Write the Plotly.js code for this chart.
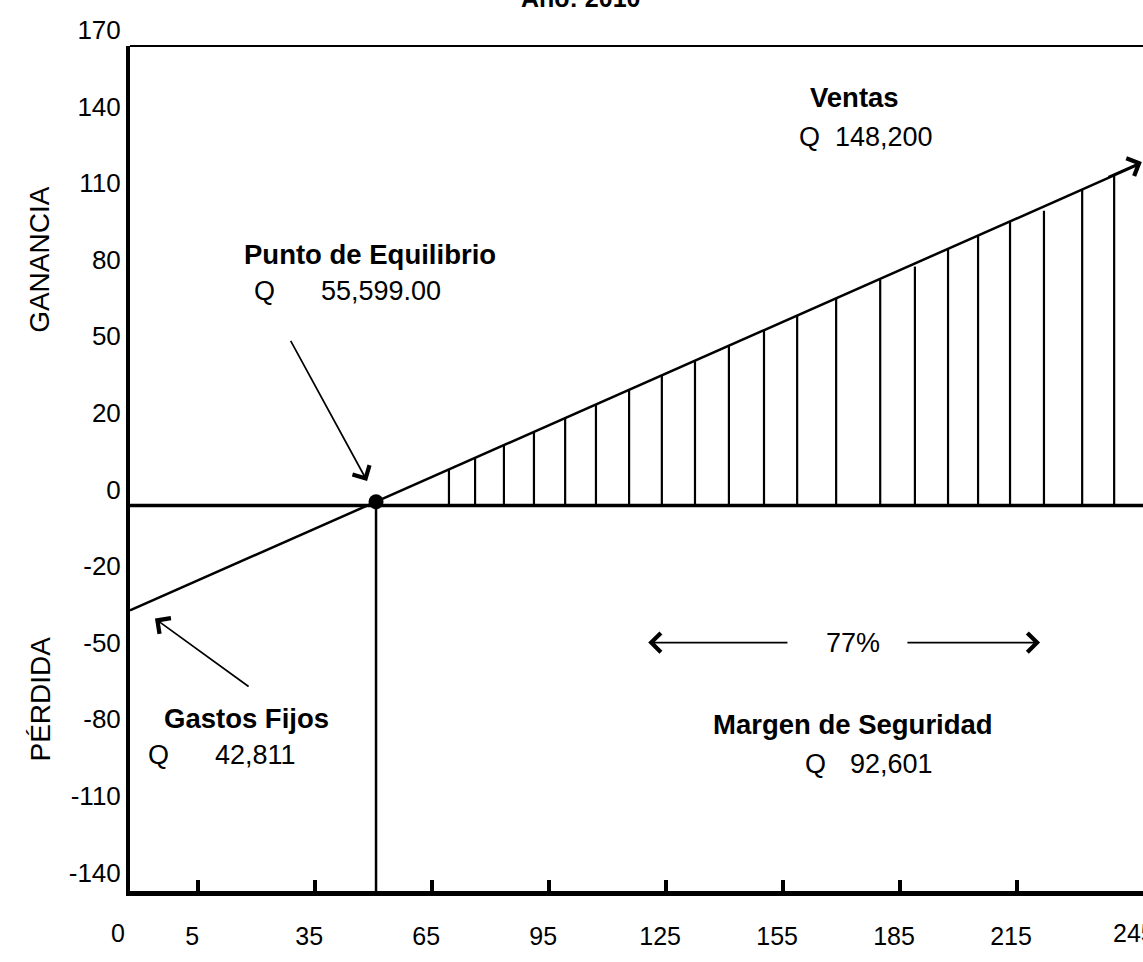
<!DOCTYPE html>
<html>
<head>
<meta charset="utf-8">
<script src="https://cdn.plot.ly/plotly-3.0.1.min.js"></script>
<style>html,body{margin:0;padding:0;background:#fff;}#chart{width:1143px;height:962px;}</style>
</head>
<body>
<div id="chart"></div>
<script>
// ---- data ----
const xTickVals = [5, 35, 65, 95, 125, 155, 185, 215];
const xTickText = ['5', '35', '65', '95', '125', '155', '185', '215'];
const yTickVals = [180, 150, 120, 90, 60, 30, 0, -30, -60, -90, -120, -150];
const yTickText = ['170', '140', '110', '80', '50', '20', '0', '-20', '-50', '-80', '-110', '-140'];

const ventasX = [-12.5, 245.5];
const ventasY = [-41.1, 133.1];
const zeroX = [-12.5, 247.3];
const zeroY = [0, 0];
const equilibrioX = 50.6;
const equilibrioY = 1.5;
const fondoY = -151;

const hatchX = [69.3, 76.0, 83.4, 91.1, 99.1, 107.0, 115.5, 123.9, 132.4, 141.1, 150.1,
                158.6, 168.6, 179.9, 188.8, 197.3, 205.0, 213.2, 221.9, 231.7, 239.9];
const hatchTop = [14.1, 18.6, 23.7, 28.9, 34.2, 39.6, 45.3, 51.0, 56.7, 62.6, 68.7,
                  74.4, 81.2, 88.4, 93.6, 100.5, 105.7, 111.3, 115.5, 123.7, 129.3];

const FONT = 'Liberation Sans, Arial, sans-serif';

// hatch segments
const hx = [], hy = [];
hatchX.forEach((x, i) => { hx.push(x, x, null); hy.push(0, hatchTop[i], null); });

const traces = [
  {x: hx, y: hy, mode: 'lines', line: {color: '#000', width: 2.2}, hoverinfo: 'skip', showlegend: false},
  {x: zeroX, y: zeroY, mode: 'lines', line: {color: '#000', width: 3.5}, showlegend: false},
  {x: ventasX, y: ventasY, mode: 'lines', line: {color: '#000', width: 2.5}, showlegend: false},
  {x: [equilibrioX, equilibrioX], y: [0, fondoY], mode: 'lines', line: {color: '#000', width: 2.5}, showlegend: false},
  {x: [equilibrioX], y: [equilibrioY], mode: 'markers', marker: {color: '#000', size: 15}, showlegend: false}
];

function txt(x, y, t, bold, extra) {
  return Object.assign({x: x, y: y, xref: 'x', yref: 'y', text: bold ? '<b>' + t + '</b>' : t,
    showarrow: false, font: {family: FONT, size: bold ? 27.5 : 27, color: '#000'}, xanchor: 'center', yanchor: 'middle'}, extra || {});
}
function arr(x0, y0, x1, y1) {
  return {x: x1, y: y1, ax: x0, ay: y0, xref: 'x', yref: 'y', axref: 'x', ayref: 'y', text: '',
    showarrow: true, arrowhead: 4, arrowsize: 2.2, arrowwidth: 1.7, arrowcolor: '#000'};
}
function ptxt(x, y, t, size, extra) {
  return Object.assign({x: x, y: y, xref: 'paper', yref: 'paper', text: t, showarrow: false,
    xanchor: 'center', yanchor: 'middle', font: {family: FONT, size: size, color: '#000'}}, extra || {});
}

const annotations = [
  txt(173.4, 159.7, 'Ventas', true),
  txt(176.3, 144.4, 'Q&nbsp;&nbsp;148,200', false),
  txt(49.1, 98.3, 'Punto de Equilibrio', true),
  txt(21.9, 83.9, 'Q', false),
  txt(51.9, 83.9, '55,599.00', false),
  txt(17.25, -83.4, 'Gastos Fijos', true),
  txt(-5.3, -97.9, 'Q', false),
  txt(19.8, -97.9, '42,811', false),
  txt(172.9, -53.7, '77%', false),
  txt(172.9, -85.8, 'Margen de Seguridad', true),
  txt(163.4, -101.4, 'Q', false),
  txt(182.7, -101.4, '92,601', false),
  arr(28.5, 65.1, 48.3, 9.6),
  arr(18.3, -71.3, -6.1, -44.3),
  arr(156.5, -53.7, 120.4, -53.7),
  arr(186.5, -53.7, 220.9, -53.7),
  arr(238, 128.5, 247.0, 134.6),
  ptxt(-0.0888, 0.747, 'GANANCIA', 28, {textangle: -90}),
  ptxt(-0.0888, 0.2267, 'PÉRDIDA', 28, {textangle: -90}),
  ptxt(-0.012, -0.0496, '0', 25),
  ptxt(0.9915, -0.0496, '245', 25),
  ptxt(0.4443, 1.0567, '<b>Año: 2010</b>', 25)
];

const layout = {
  width: 1143, height: 962,
  margin: {l: 130, r: 0, t: 46, b: 71, pad: 0},
  paper_bgcolor: '#fff', plot_bgcolor: '#fff',
  showlegend: false,
  xaxis: {range: [-12.5, 247.3], tickvals: xTickVals, ticktext: xTickText, showgrid: false, zeroline: false,
          showline: true, linecolor: '#000', linewidth: 5, ticks: 'inside', ticklen: 11, tickwidth: 4, tickcolor: '#000',
          ticklabelstandoff: 19, ticklabelshift: -6, automargin: false,
          tickfont: {family: FONT, size: 25, color: '#000'}},
  yaxis: {range: [-151, 180], tickvals: yTickVals, ticktext: yTickText, showgrid: false, zeroline: false,
          showline: true, linecolor: '#000', linewidth: 4, ticks: '', ticklabelshift: -16, ticklabelstandoff: 0,
          automargin: false, tickfont: {family: FONT, size: 26, color: '#000'}},
  shapes: [{type: 'line', xref: 'paper', yref: 'paper', x0: 0, x1: 1, y0: 1, y1: 1, line: {color: '#000', width: 2}}],
  annotations: annotations
};

Plotly.newPlot('chart', traces, layout, {displayModeBar: false, staticPlot: true});
</script>
</body>
</html>
